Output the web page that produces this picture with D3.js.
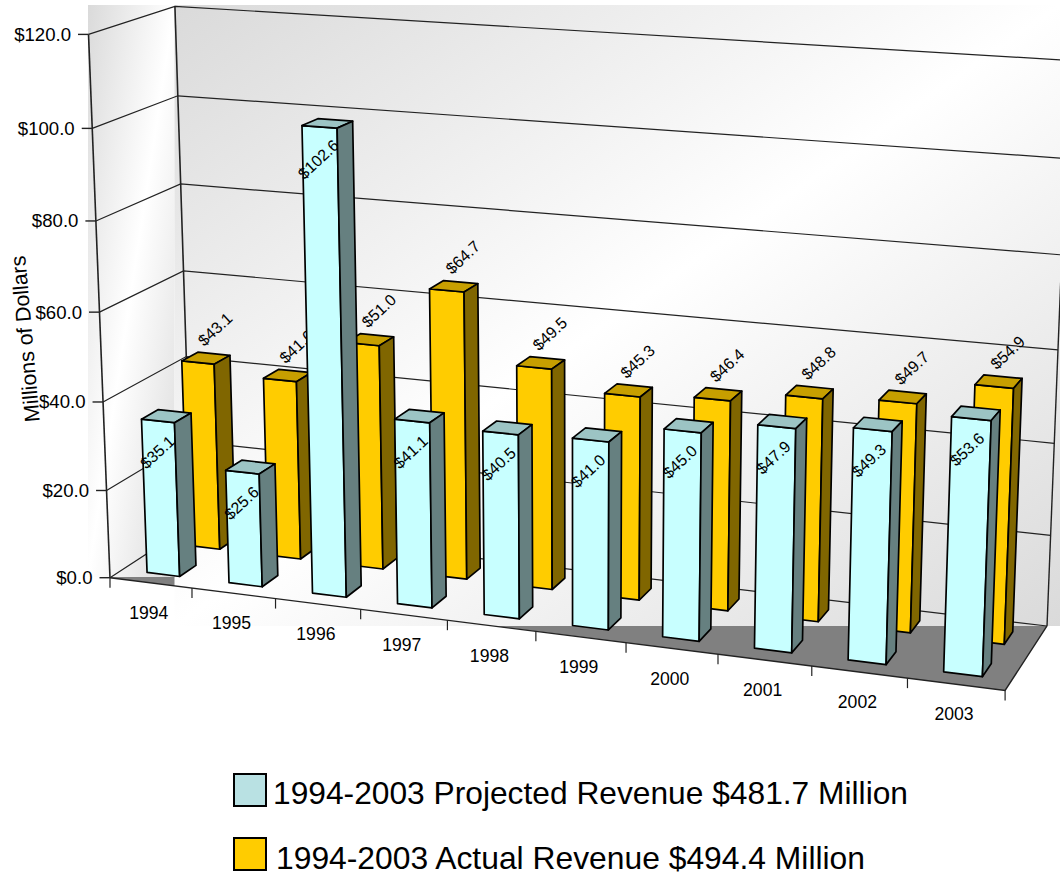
<!DOCTYPE html>
<html>
<head>
<meta charset="utf-8">
<title>Projected and Actual Revenue 1994-2003</title>
<script src="https://cdn.jsdelivr.net/npm/d3@7"></script>
<style>
  html, body { margin: 0; padding: 0; background: #fff; }
  svg { display: block; }
  text { font-family: "Liberation Sans", Arial, sans-serif; fill: #000; }
</style>
</head>
<body>
<svg id="chart" width="1060" height="875"></svg>
<script>
const years = ["1994","1995","1996","1997","1998","1999","2000","2001","2002","2003"];
const projected = [35.1, 25.6, 102.6, 41.1, 40.5, 41.0, 45.0, 47.9, 49.3, 53.6];
const actual = [43.1, 41.0, 51.0, 64.7, 49.5, 45.3, 46.4, 48.8, 49.7, 54.9];
const valueTicks = [0, 20, 40, 60, 80, 100, 120];
const legendLabels = ["1994-2003 Projected Revenue $481.7 Million", "1994-2003 Actual Revenue $494.4 Million"];

// Scales into the unit cube of the chart box
const xScale = d3.scaleLinear().domain([0, years.length]).range([0, 1]);
const vScale = d3.scaleLinear().domain([0, 120]).range([0, 1]);
const zScale = d3.scaleLinear().domain([0, 2]).range([0, 1]);

// Camera: unit-cube points paired with their place on the page
const anchors = [
  [0, 0, 0, 110, 576.3], [1, 0, 0, 1005.7, 690.7], [0, 0, 1, 192, 526], [1, 0, 1, 1046.7, 625.3],
  [0, 1, 0, 88.7, 34.7], [0, 1, 1, 174.7, 6], [1, 1, 1, 1069.5, 60.7],
  [0.5, 0, 0, 535.3, 631.7], [0, 0.5, 0, 99.3, 312.7], [0, 0.5, 1, 183.7, 270]
];

function solveCamera(pts) {
  const rows = [], rhs = [];
  pts.forEach(([x, y, z, u0, v0]) => {
    const u = u0 / 1000, v = v0 / 1000;
    rows.push([x, y, z, 1, 0, 0, 0, 0, -u * x, -u * y, -u * z]); rhs.push(u);
    rows.push([0, 0, 0, 0, x, y, z, 1, -v * x, -v * y, -v * z]); rhs.push(v);
  });
  const n = 11;
  const m = d3.range(n).map(i => d3.range(n + 1).map(j => {
    const col = j < n ? rows.map(r => r[j]) : rhs;
    return d3.sum(rows, (r, k) => r[i] * col[k]);
  }));
  for (let c = 0; c < n; c++) {
    let p = c;
    for (let r = c + 1; r < n; r++) if (Math.abs(m[r][c]) > Math.abs(m[p][c])) p = r;
    [m[c], m[p]] = [m[p], m[c]];
    for (let r = 0; r < n; r++) {
      if (r === c) continue;
      const f = m[r][c] / m[c][c];
      for (let j = c; j <= n; j++) m[r][j] -= f * m[c][j];
    }
  }
  return d3.range(n).map(i => m[i][n] / m[i][i]);
}
const cam = solveCamera(anchors);

// Projects (category position, value, depth slot) to page pixels
function project(cat, value, slot) {
  const x = xScale(cat), y = vScale(value), z = zScale(slot);
  const w = cam[8] * x + cam[9] * y + cam[10] * z + 1;
  return [1000 * (cam[0] * x + cam[1] * y + cam[2] * z + cam[3]) / w,
          1000 * (cam[4] * x + cam[5] * y + cam[6] * z + cam[7]) / w];
}

const svg = d3.select("#chart");
const poly = d3.line().curve(d3.curveLinearClosed);
const seg = d3.line();

const defs = svg.append("defs");
const wash = defs.append("linearGradient").attr("id", "wallWash")
  .attr("x1", 0).attr("y1", 0).attr("x2", 1).attr("y2", 1);
wash.append("stop").attr("offset", 0).attr("stop-color", "#dadada");
wash.append("stop").attr("offset", 0.5).attr("stop-color", "#ffffff");
wash.append("stop").attr("offset", 1).attr("stop-color", "#dadada");

// Dark floor, then the washed wall panels laid over it
svg.append("path")
  .attr("d", poly([project(0, 0, 0), project(10, 0, 0), project(10, 0, 2), project(0, 0, 2)]))
  .attr("fill", "#808080");
svg.append("rect").attr("x", 88).attr("y", 5).attr("width", 86.5).attr("height", 572).attr("fill", "url(#wallWash)");
svg.append("rect").attr("x", 174.5).attr("y", 5).attr("width", 885.5).attr("height", 621).attr("fill", "url(#wallWash)");

// Grid lines on the side wall and the back wall
const grid = svg.append("g").attr("fill", "none").attr("stroke", "#222");
valueTicks.forEach(v => {
  grid.append("path").attr("stroke-width", 1.2)
    .attr("d", seg([project(0, v, 0), project(0, v, 2), project(10, v, 2)]));
});
grid.append("path").attr("stroke-width", 1.6).attr("d", seg([project(0, 0, 0), project(0, 120, 0)]));
grid.append("path").attr("stroke-width", 1.6).attr("d", seg([project(0, 0, 2), project(0, 120, 2)]));
grid.append("path").attr("stroke-width", 1.4).attr("d", seg([project(10, 0, 2), project(10, 120, 2)]));
grid.append("path").attr("stroke-width", 1.4)
  .attr("d", seg([project(0, 0, 0), project(10, 0, 0), project(10, 0, 2)]));

// Value axis ticks and labels
valueTicks.forEach(v => {
  const [px, py] = project(0, v, 0);
  svg.append("path").attr("stroke", "#222").attr("stroke-width", 1.4)
    .attr("d", seg([[px - 10.5, py], [px, py]]));
  svg.append("text").attr("x", px - 17.5).attr("y", py).attr("dy", "0.35em")
    .attr("text-anchor", "end").attr("font-size", 18.6).text("$" + v.toFixed(1));
});

// Category ticks and labels along the front edge
d3.range(years.length + 1).forEach(i => {
  const [px, py] = project(i, 0, 0);
  svg.append("path").attr("stroke", "#222").attr("stroke-width", 1.2)
    .attr("d", seg([[px, py], [px, py + 10]]));
});
years.forEach((yr, i) => {
  const [px, py] = project(i + 0.5, 0, 0);
  svg.append("text").attr("x", px - 2).attr("y", py + 30).attr("dy", "0.35em")
    .attr("text-anchor", "middle").attr("font-size", 17.6).text(yr);
});

svg.append("text").attr("transform", "translate(25,339) rotate(-95)")
  .attr("dy", "0.35em").attr("text-anchor", "middle").attr("font-size", 21.3).text("Millions of Dollars");

// One bar: front face, lid, value label, then the shaded side
function drawBar(g, i, value, slot0, slot1, shades, labelDx, labelDy) {
  const x0 = i + 0.3, x1 = i + 0.7;
  const face = (pts, fill) => g.append("path").attr("d", poly(pts)).attr("fill", fill)
    .attr("stroke", "#000").attr("stroke-width", 1.7).attr("stroke-linejoin", "round");
  face([project(x0, 0, slot0), project(x1, 0, slot0), project(x1, value, slot0), project(x0, value, slot0)], shades.front);
  face([project(x0, value, slot0), project(x1, value, slot0), project(x1, value, slot1), project(x0, value, slot1)], shades.top);
  const [cx, cy] = project(i + 0.5, value, (slot0 + slot1) / 2);
  g.append("text").attr("transform", `translate(${cx + labelDx},${cy + labelDy}) rotate(-43)`)
    .attr("dy", "0.35em").attr("text-anchor", "middle").attr("font-size", 16)
    .attr("fill", "#222").text("$" + value.toFixed(1));
  face([project(x1, 0, slot0), project(x1, 0, slot1), project(x1, value, slot1), project(x1, value, slot0)], shades.side);
}

const goldShades = { front: "#ffcc00", top: "#c79f00", side: "#806600" };
const cyanShades = { front: "#c8ffff", top: "#9cc4c4", side: "#668080" };
const goldBars = svg.append("g");
actual.forEach((v, i) => drawBar(goldBars, i, v, 1.3, 1.7, goldShades, 9, -29));
const cyanBars = svg.append("g");
projected.forEach((v, i) => drawBar(cyanBars, i, v, 0.3, 0.7, cyanShades, -9, 36));

// Legend
const legendY = [790, 854];
const legendFill = ["#b9e1e3", "#ffcc00"];
const legendTextX = [273, 276];
const legendTextY = [793, 858];
const legendTextW = [635, 589];
legendLabels.forEach((label, i) => {
  svg.append("rect").attr("x", 234).attr("y", legendY[i] - 16).attr("width", 32).attr("height", 32)
    .attr("fill", legendFill[i]).attr("stroke", "#000").attr("stroke-width", 2);
  svg.append("text").attr("x", legendTextX[i]).attr("y", legendTextY[i]).attr("dy", "0.35em")
    .attr("font-size", 32).attr("textLength", legendTextW[i]).attr("lengthAdjust", "spacingAndGlyphs")
    .text(label);
});
</script>
</body>
</html>
